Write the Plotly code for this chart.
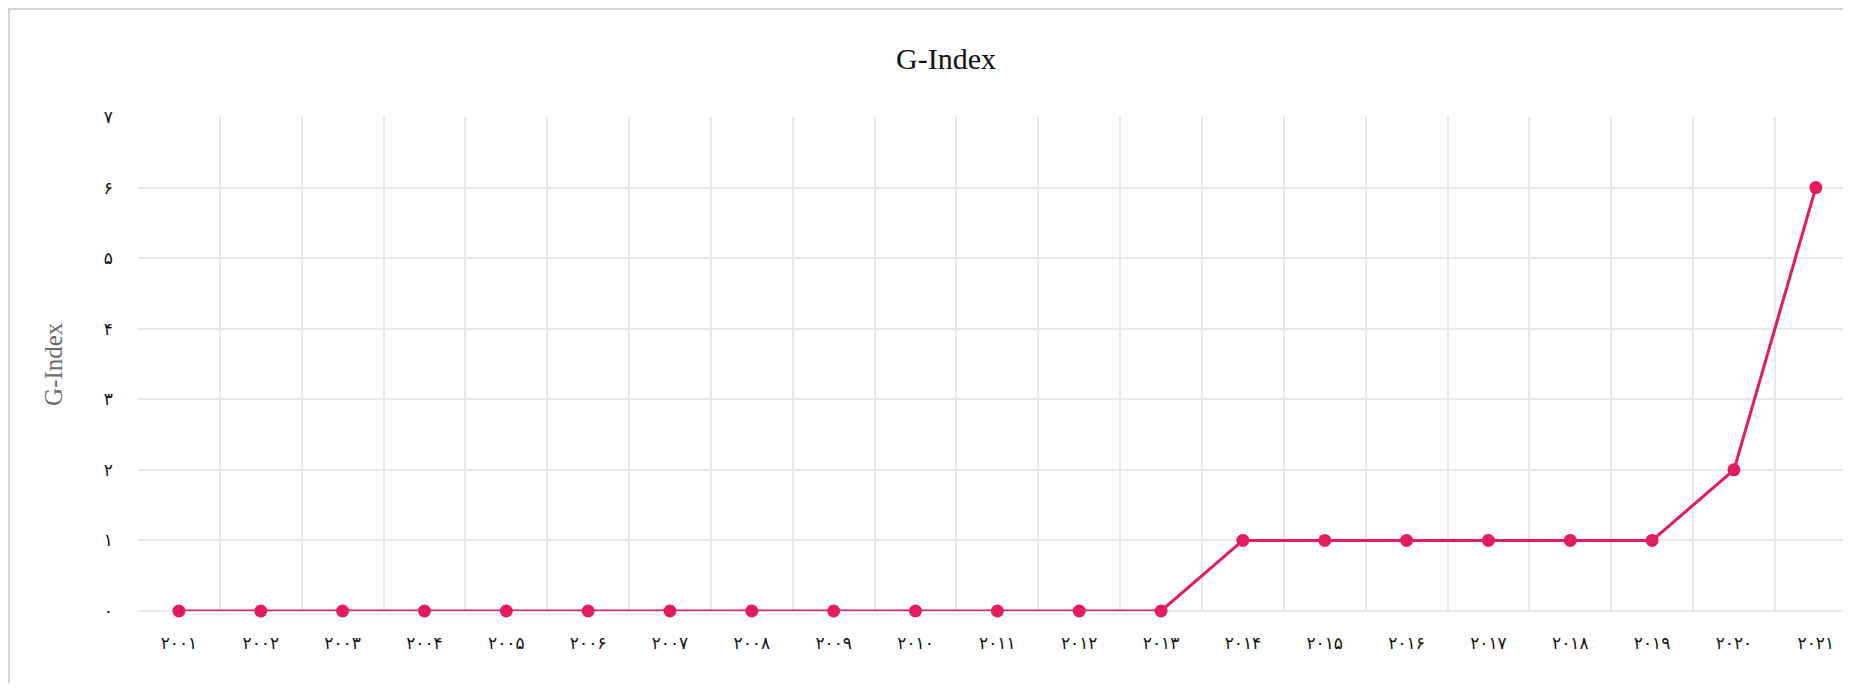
import plotly.graph_objects as go

# ---- data ----
years = ["۲۰۰۱", "۲۰۰۲", "۲۰۰۳", "۲۰۰۴", "۲۰۰۵", "۲۰۰۶", "۲۰۰۷", "۲۰۰۸", "۲۰۰۹", "۲۰۱۰",
         "۲۰۱۱", "۲۰۱۲", "۲۰۱۳", "۲۰۱۴", "۲۰۱۵", "۲۰۱۶", "۲۰۱۷", "۲۰۱۸", "۲۰۱۹", "۲۰۲۰", "۲۰۲۱"]
g_index = [0, 0, 0, 0, 0, 0, 0, 0, 0, 0, 0, 0, 0, 1, 1, 1, 1, 1, 1, 2, 6]
y_tick_values = [0, 1, 2, 3, 4, 5, 6, 7]
y_tick_labels = ["۰", "۱", "۲", "۳", "۴", "۵", "۶", "۷"]
title_text = "G-Index"
y_title_text = "G-Index"

# ---- layout geometry (figure pixels) ----
W, H = 1843, 675
ML, MT, MB, MR = 130, 109, 72, 0
PW = W - ML - MR
PH = H - MT - MB

def px_x(x):
    return (x - ML) / PW

def px_y(y):
    return (H - MB - y) / PH

LINE = "#e51b60"
GRID = "#e8e8e8"
BORDER = "#d4d4d4"

fig = go.Figure()
fig.add_trace(go.Scatter(
    x=years, y=g_index, mode="lines+markers",
    line=dict(color=LINE, width=3),
    marker=dict(color=LINE, size=13),
    cliponaxis=False, showlegend=False,
))

shapes = [
    dict(type="line", xref="paper", yref="paper", x0=px_x(1), x1=px_x(1), y0=px_y(0), y1=px_y(H + 10),
         line=dict(color=BORDER, width=2)),
    dict(type="line", xref="paper", yref="paper", x0=px_x(0), x1=px_x(1837), y0=px_y(1), y1=px_y(1),
         line=dict(color=BORDER, width=2)),
    dict(type="line", xref="paper", yref="paper", x0=px_x(1836), x1=px_x(1836), y0=px_y(0), y1=px_y(8),
         line=dict(color=BORDER, width=2)),
    dict(type="line", xref="paper", yref="paper", x0=px_x(1836), x1=px_x(1836), y0=px_y(670), y1=px_y(H + 10),
         line=dict(color=BORDER, width=2)),
]

fig.update_layout(
    width=W, height=H,
    margin=dict(l=ML, r=MR, t=MT, b=MB, pad=0),
    paper_bgcolor="white", plot_bgcolor="white",
    title=dict(text=title_text, x=938 / W, xanchor="center", y=1 - 50 / H, yanchor="middle",
               yref="container", font=dict(family="Liberation Serif", size=30, color="#111111")),
    shapes=shapes,
    annotations=[dict(text=y_title_text, xref="paper", yref="paper", x=px_x(45), y=0.5,
                      xanchor="center", yanchor="middle", textangle=-90, showarrow=False,
                      font=dict(family="Liberation Serif", size=25, color="#6b6b6b"))],
    xaxis=dict(
        type="category", range=[-0.5, 20.43], tickson="boundaries",
        showgrid=True, gridcolor=GRID, gridwidth=2,
        showline=False, zeroline=False, ticks="",
        ticklabelstandoff=20,
        tickfont=dict(family="DejaVu Sans", size=17, color="#111111"),
    ),
    yaxis=dict(
        range=[0, 7], tickvals=y_tick_values, ticktext=y_tick_labels,
        showgrid=True, gridcolor=GRID, gridwidth=2,
        zeroline=True, zerolinecolor=GRID, zerolinewidth=2,
        showline=False, ticks="",
        ticklabelstandoff=24,
        tickfont=dict(family="DejaVu Sans", size=17, color="#111111"),
    ),
)

fig.write_html("out.html")
